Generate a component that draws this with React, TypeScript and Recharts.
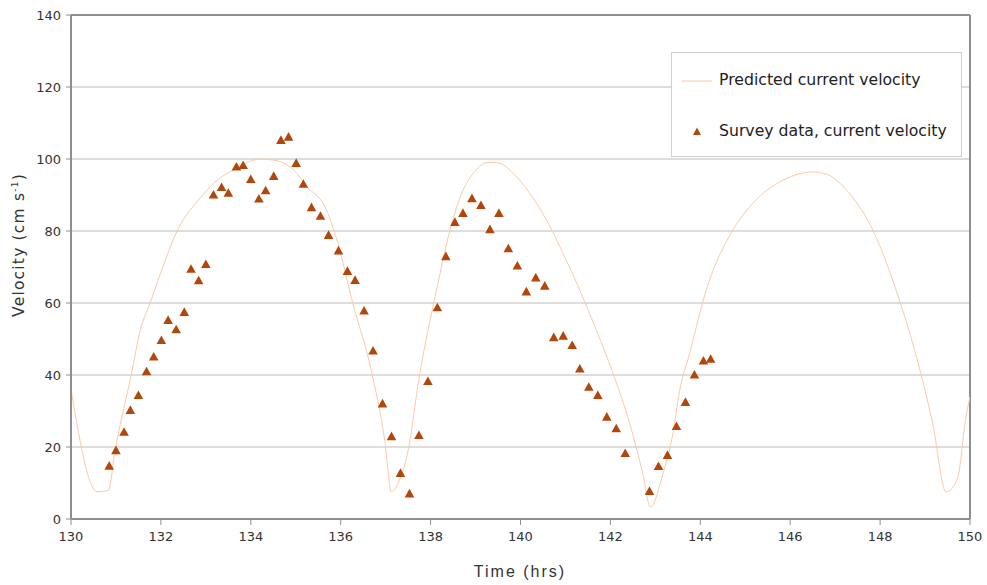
import React from "react"
import { ComposedChart, Line, Scatter, XAxis, YAxis, CartesianGrid, Legend, ReferenceLine } from "recharts"

// Predicted current velocity (model curve)
const predictedTime = [
  130, 130.58, 130.83, 130.98, 131.34, 131.54, 131.76, 131.99, 132.36, 132.9, 133.1, 133.47, 133.61, 134.2,
  134.5, 134.95, 135.25, 135.65, 135.94, 136.25, 136.68, 136.98, 137.13, 137.32, 137.47, 137.76, 138.13,
  138.43, 138.72, 138.95, 139.25, 139.47, 139.84, 140.21, 140.58, 140.95, 141.32, 141.69, 142.06, 142.43,
  142.72, 142.89, 143.17, 143.39, 143.54, 143.76, 144.13, 144.72, 145.17, 145.84, 146.5, 146.8, 147.32,
  147.84, 148.43, 148.87, 149.17, 149.47, 149.72, 149.91, 150,
]
const predictedVelocity = [
  36, 7.6, 7.9, 19, 40, 52.4, 60, 68.2, 80, 89.5, 92.3, 96, 96.9, 100,
  99.7, 97, 92.3, 86.7, 76.5, 60.8, 41.3, 21.8, 7.5, 11.2, 17.2, 40.4, 63.5,
  80.2, 91.3, 96, 99, 99, 96, 90.4, 83, 73.7, 63.5, 52.4, 40.4, 26.5,
  12.6, 3.3, 12.6, 23.7, 35.7, 45.9, 63.5, 80.2, 87.7, 94.1, 96.4, 95.8, 90.4,
  80.2, 60.8, 42.2, 26.5, 7.5, 11.2, 28.3, 34,
]

// Survey data, current velocity
const surveyTime = [
  130.85, 131.0, 131.18, 131.32, 131.5, 131.68, 131.84, 132.01, 132.16, 132.34, 132.52, 132.67, 132.84, 133.0,
  133.17, 133.35, 133.5, 133.68, 133.83, 134.0, 134.18, 134.33, 134.51, 134.67, 134.84, 135.01, 135.17,
  135.35, 135.55, 135.73, 135.95, 136.15, 136.32, 136.52, 136.72, 136.93, 137.13, 137.33, 137.53, 137.74,
  137.94, 138.15, 138.34, 138.54, 138.72, 138.92, 139.12, 139.32, 139.52, 139.73, 139.93, 140.13, 140.34,
  140.54, 140.74, 140.95, 141.15, 141.32, 141.52, 141.72, 141.92, 142.13, 142.33, 142.87, 143.07, 143.27,
  143.47, 143.67, 143.87, 144.07, 144.23,
]
const surveyVelocity = [
  14.7, 19.0, 24.1, 30.2, 34.3, 40.9, 45.0, 49.6, 55.2, 52.6, 57.4, 69.4, 66.2, 70.7,
  90.0, 92.1, 90.5, 97.8, 98.2, 94.3, 88.9, 91.2, 95.2, 105.2, 106.1, 98.8, 93.0,
  86.5, 84.1, 78.8, 74.5, 68.8, 66.3, 57.8, 46.7, 32.0, 22.9, 12.7, 7.0, 23.2,
  38.2, 58.7, 72.9, 82.4, 84.9, 89.0, 87.1, 80.4, 84.9, 75.1, 70.3, 63.1, 67.0,
  64.7, 50.4, 50.8, 48.2, 41.7, 36.6, 34.3, 28.3, 25.1, 18.2, 7.7, 14.6, 17.7,
  25.7, 32.4, 40.0, 43.9, 44.4,
]

const xTicks = [130, 132, 134, 136, 138, 140, 142, 144, 146, 148, 150]
const yTicks = [0, 20, 40, 60, 80, 100, 120, 140]

const lineName = "Predicted current velocity"
const surveyName = "Survey data, current velocity"

const predicted = predictedTime.map((t, i) => ({ t, v: predictedVelocity[i] }))
const survey = surveyTime.map((t, i) => ({ t, v: surveyVelocity[i] }))

const LINE_COLOR = "#fcc9a8"
const MARK_COLOR = "#b2470c"
const AXIS_COLOR = "#8e8e8e"
const FONT = "'DejaVu Sans', sans-serif"

const Triangle = (props: any) => {
  const { cx, cy } = props
  if (cx == null || cy == null) return null
  return <polygon points={`${cx},${cy - 5} ${cx + 4.8},${cy + 3.6} ${cx - 4.8},${cy + 3.6}`} fill={MARK_COLOR} />
}

const renderLegend = () => (
  <div
    style={{
      width: 291,
      height: 105,
      boxSizing: "border-box",
      border: "1px solid #d0d0d0",
      background: "#fff",
      fontFamily: FONT,
      fontSize: 15.7,
      color: "#222",
      position: "relative",
    }}
  >
    <svg width={40} height={105} style={{ position: "absolute", left: 0, top: 0 }}>
      <line x1={10} x2={40} y1={28} y2={28} stroke={LINE_COLOR} strokeWidth={1} />
      <polygon points="25,74.5 29,82 21,82" fill={MARK_COLOR} />
    </svg>
    <div style={{ position: "absolute", left: 47, top: 17, whiteSpace: "nowrap" }}>{lineName}</div>
    <div style={{ position: "absolute", left: 47, top: 68, whiteSpace: "nowrap" }}>{surveyName}</div>
  </div>
)

export default function App() {
  return (
    <div style={{ position: "absolute", left: 0, top: 0, background: "#fff" }}>
      <ComposedChart width={987} height={585} margin={{ top: 15, right: 17, bottom: 0, left: 0 }}>
        <CartesianGrid vertical={false} stroke="#d2d2d2" strokeWidth={1.5} />
        <XAxis
          type="number"
          dataKey="t"
          domain={[130, 150]}
          ticks={xTicks}
          allowDataOverflow
          height={66}
          stroke={AXIS_COLOR}
          axisLine={{ stroke: AXIS_COLOR, strokeWidth: 2 }}
          tickLine={{ stroke: AXIS_COLOR }}
          tickSize={6}
          tickMargin={7}
          tick={{ fill: "#333", fontSize: 13, fontFamily: FONT }}
          label={() => (
            <text x={520} y={577} textAnchor="middle" fill="#333" fontSize={16} letterSpacing={2}
              fontFamily="'Liberation Sans', sans-serif">
              Time (hrs)
            </text>
          )}
        />
        <YAxis
          type="number"
          dataKey="v"
          domain={[0, 140]}
          ticks={yTicks}
          allowDataOverflow
          width={71}
          axisLine={{ stroke: AXIS_COLOR, strokeWidth: 2 }}
          tickLine={{ stroke: AXIS_COLOR }}
          tickSize={5}
          tickMargin={5}
          tick={{ fill: "#333", fontSize: 13, fontFamily: FONT }}
          label={() => (
            <text transform="translate(24,245) rotate(-90)" textAnchor="middle" fill="#333" fontSize={15.5}
              letterSpacing={1.2} fontFamily={FONT}>
              Velocity (cm s<tspan dy={-6} fontSize={9}>-1</tspan><tspan dy={6}>)</tspan>
            </text>
          )}
        />
        <ReferenceLine y={140} stroke={AXIS_COLOR} strokeWidth={2} />
        <ReferenceLine x={150} stroke={AXIS_COLOR} strokeWidth={2} />
        <Line
          data={predicted}
          dataKey="v"
          name={lineName}
          type="monotone"
          stroke={LINE_COLOR}
          strokeWidth={1}
          dot={false}
          activeDot={false}
          isAnimationActive={false}
        />
        <Scatter data={survey} dataKey="v" name={surveyName} shape={Triangle} isAnimationActive={false} />
        <Legend
          layout="vertical"
          align="center"
          verticalAlign="middle"
          wrapperStyle={{ left: 671, top: 52, width: 291, height: 105 }}
          content={renderLegend}
        />
      </ComposedChart>
    </div>
  )
}
